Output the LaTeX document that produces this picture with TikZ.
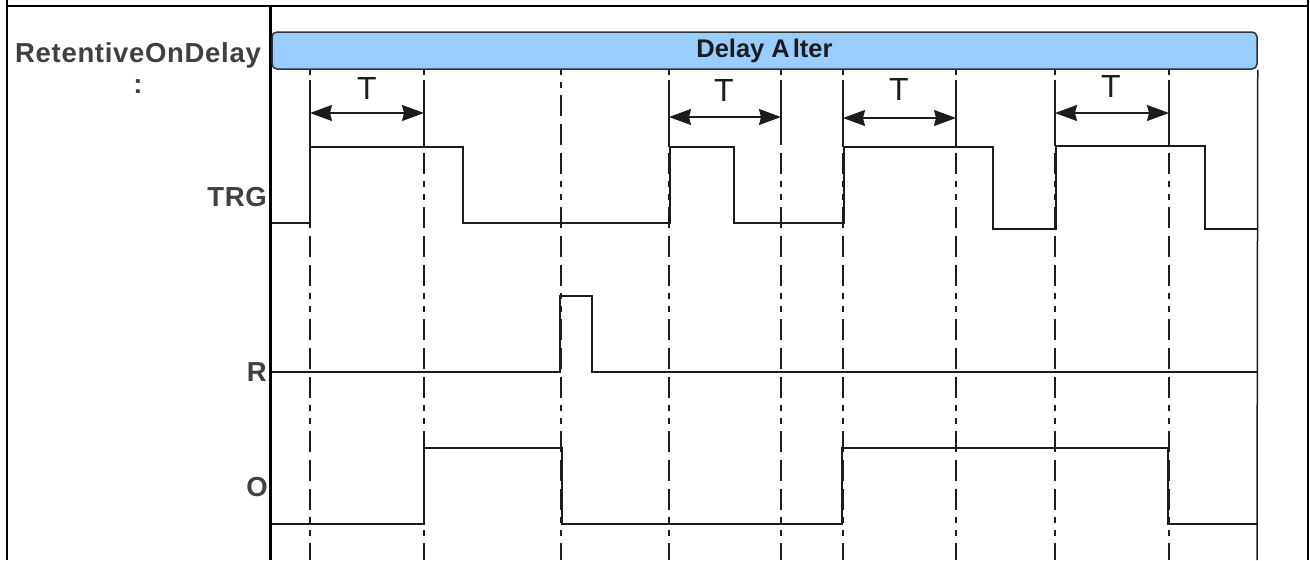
\documentclass[tikz,border=0pt]{standalone}
\usepackage{fontspec}
\setmainfont{Liberation Sans}
\newfontfamily\lblfont[LetterSpace=2.5]{Liberation Sans Bold}
\definecolor{hdrblue}{RGB}{153,204,255}
\definecolor{hdredge}{RGB}{50,50,50}
\definecolor{lblgray}{RGB}{64,64,64}
\definecolor{wavedark}{RGB}{28,28,28}
\usetikzlibrary{arrows.meta, positioning}

\begin{document}
\begin{tikzpicture}[x=1pt, y=-1pt,
    sig/.style={line width=1.5pt, wavedark, line join=miter},
    guide/.style={line width=1.4pt, wavedark,
      dash pattern=on 6pt off 7pt on 6pt off 7pt on 21pt off 8pt on 21pt off 8pt on 21pt off 7pt},
    tmark/.style={line width=1.4pt, wavedark},
    dimarrow/.style={line width=1.5pt, wavedark,
      {Stealth[length=22pt, width=16pt, inset=2pt]}-{Stealth[length=22pt, width=16pt, inset=2pt]}},
    siglbl/.style={font=\lblfont\fontsize{27.5}{31.5}\selectfont, lblgray, inner sep=0pt},
    tlbl/.style={font=\fontsize{32}{36}\selectfont, wavedark, inner sep=0pt},
    hdr/.style={draw=hdredge, line width=1.5pt, fill=hdrblue, rounded corners=5pt,
      minimum width=985pt, minimum height=37pt, inner sep=0pt,
      font=\bfseries\fontsize{25.5}{30}\selectfont, text=wavedark}]
  \useasboundingbox (0,0) rectangle (1310,560);

  % table cell borders
  \draw[line width=2pt] (6.5,0) -- (6.5,560);
  \draw[line width=2pt] (1308,0) -- (1308,560);
  \draw[line width=2pt] (6.5,5.5) -- (1308,5.5);
  \draw[line width=3pt] (270,5.5) -- (270,560);

  % time guides
  \foreach \tx in {310,424,561,669,781,843,956,1055,1169}
    \draw[guide] (\tx,69) -- (\tx,560);

  % header bar and frame
  \node[hdr] (hdr) at (764.5,50.5) {Delay A\kern3pt lter};
  \draw[line width=1.5pt, wavedark] (hdr.south east) -- (1257,560);

  % labels
  \node[siglbl, align=center, anchor=base] (title) at (138,93.5) {RetentiveOnDelay\\:};
  \node[siglbl, anchor=east] (trg) at (267,197) {TRG};
  \node[siglbl, anchor=east] (rst) at (267,372) {R};
  \node[siglbl, anchor=east] (out) at (268,487) {O};

  % waveforms
  \draw[sig] (271.5,223) -- (310,223) -- (310,147) -- (463,147) -- (463,223)
    -- (670,223) -- (670,147) -- (734,147) -- (734,223) -- (844,223) -- (844,147)
    -- (993,147) -- (993,229) -- (1056,229) -- (1056,146) -- (1205,146)
    -- (1205,229) -- (1257,229);
  \draw[sig] (271.5,372) -- (560,372) -- (560,296) -- (592,296) -- (592,372) -- (1257,372);
  \draw[sig] (271.5,524) -- (424,524) -- (424,448) -- (562,448) -- (562,524)
    -- (842,524) -- (842,448) -- (1168,448) -- (1168,524) -- (1257,524);

  % delay marks
  \foreach \ta/\tb/\ty/\ha/\hb in {310/424/113/147/147, 669/781/117/147/133,
                                  843/956/118/147/147, 1055/1169/113/146/146}{
    \draw[tmark] (\ta,80) -- (\ta,\ha);
    \draw[tmark] (\tb,80) -- (\tb,\hb);
    \draw[dimarrow] (\ta,\ty) -- (\tb,\ty);
  }
  \node[tlbl] (t1) at (367,88) {T};
  \node[tlbl] (t2) at (724,90) {T};
  \node[tlbl] (t3) at (899,89) {T};
  \node[tlbl] (t4) at (1111,86) {T};
\end{tikzpicture}
\end{document}
